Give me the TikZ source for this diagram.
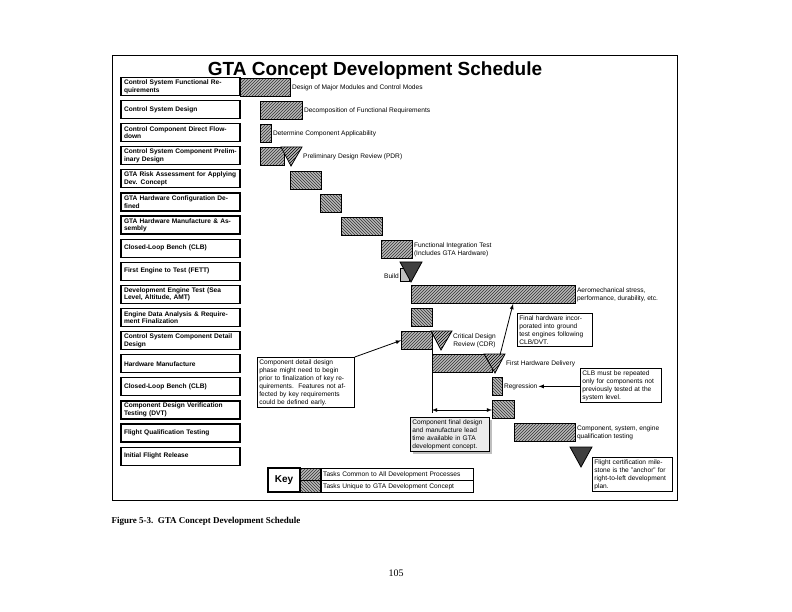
\documentclass[tikz,border=0pt]{standalone}
\usepackage{fontspec}
\setmainfont{Liberation Serif}
\setsansfont{Liberation Sans}
\usepackage{tikz}
\usetikzlibrary{patterns, arrows, shadows}
\tikzset{task/.style = {rectangle, draw=black, very thick, fill=white, minimum width=119pt, minimum height=18pt, text width=113pt, align=left, inner sep=2pt, font=\sffamily\bfseries\fontsize{6.6}{7.6}\selectfont},
common/.style = {rectangle, draw=black, thick, inner sep=0pt, minimum height=18pt, preaction={fill=gray!55}, pattern=north east lines, pattern color=black!80},
unique/.style = {common, pattern=north west lines},
lbl/.style = {font=\sffamily\fontsize{6.6}{7.8}\selectfont, align=left, inner sep=1pt},
note/.style = {rectangle, draw=black, thick, fill=white, align=left, inner sep=2pt, font=\sffamily\fontsize{6.6}{8}\selectfont},
arrow/.style = {thick,->,>=latex}}

\begin{document}
\begin{tikzpicture}[x=1pt, y=-1pt]
\useasboundingbox (0,0) rectangle (792,612);
\draw [thick] (112,55) rectangle (677,500);
\node (title) at (375,71) {\sffamily\bfseries\fontsize{19}{20}\selectfont GTA Concept Development Schedule};
% task column
\foreach \i/\t in {1/{Control System Functional Requirements}, 2/{Control System Design}, 3/{Control Component Direct Flowdown}, 4/{Control System Component Preliminary Design}, 5/{GTA Risk Assessment for Applying Dev. Concept}, 6/{GTA Hardware Configuration Defined}, 7/{GTA Hardware Manufacture \& Assembly}, 8/{Closed-Loop Bench (CLB)}, 9/{First Engine to Test (FETT)}, 10/{Development Engine Test (Sea Level, Altitude, AMT)}, 11/{Engine Data Analysis \& Requirement Finalization}, 12/{Control System Component Detail Design}, 13/{Hardware Manufacture}, 14/{Closed-Loop Bench (CLB)}, 15/{Component Design Verification Testing (DVT)}, 16/{Flight Qualification Testing}, 17/{Initial Flight Release}}
  \node (r\i) [task] at (180.5,{86.5+23.1*(\i-1)}) {\t};
% bars
\node (b1) [common, anchor=north west, minimum width=50] at (240,78) {};
\node (b2) [common, anchor=north west, minimum width=42] at (260,101) {};
\node (b3) [common, anchor=north west, minimum width=11] at (260,124) {};
\node (b4) [common, anchor=north west, minimum width=24] at (260,147) {};
\node (b5) [unique, anchor=north west, minimum width=31] at (290,171) {};
\node (b6) [unique, anchor=north west, minimum width=21] at (320,194) {};
\node (b7) [unique, anchor=north west, minimum width=41] at (341,217) {};
\node (b8) [common, anchor=north west, minimum width=31] at (381,240) {};
\node (b9) [rectangle, draw, thick, fill=gray!50, anchor=north west, minimum width=9, minimum height=13, inner sep=0pt] at (400,268) {};
\node (b10) [common, anchor=north west, minimum width=164] at (411,285) {};
\node (b11) [unique, anchor=north west, minimum width=21] at (411,308) {};
\node (b12) [common, anchor=north west, minimum width=31] at (401,331) {};
\node (b13) [common, anchor=north west, minimum width=60] at (432,354) {};
\node (b14) [unique, anchor=north west, minimum width=10] at (492,377) {};
\node (b15) [unique, anchor=north west, minimum width=22] at (492,400) {};
\node (b16) [common, anchor=north west, minimum width=61] at (514,423) {};
% milestones
\draw [thick, preaction={fill=gray!55}, pattern=north east lines] (281,147) -- (302,147) -- (291,166) -- cycle;
\draw [thick, fill=black!75] (400,262) -- (422,262) -- (411,282) -- cycle;
\draw [thick, preaction={fill=gray!55}, pattern=north east lines] (431,331) -- (452,331) -- (441,350) -- cycle;
\draw [thick, preaction={fill=gray!55}, pattern=north east lines] (484,354) -- (505,354) -- (495,373) -- cycle;
\draw [thick, fill=black!75] (570,447) -- (592,447) -- (581,467) -- cycle;
% bar labels
\node (l1) [lbl, anchor=west] at (b1.east) {Design of Major Modules and Control Modes};
\node (l2) [lbl, anchor=west] at (b2.east) {Decomposition of Functional Requirements};
\node (l3) [lbl, anchor=west] at (b3.east) {Determine Component Applicability};
\node (l4) [lbl, anchor=west] at (302,157) {Preliminary Design Review (PDR)};
\node (l8) [lbl, anchor=west] at (b8.east) {Functional Integration Test\\(Includes GTA Hardware)};
\node (l9) [lbl, anchor=east] at (400,276) {Build};
\node (l10) [lbl, anchor=west] at (b10.east) {Aeromechanical stress,\\performance, durability, etc.};
\node (l12) [lbl, anchor=west, align=center] at (452,341) {Critical Design\\Review (CDR)};
\node (l13) [lbl, anchor=west] at (505,364) {First Hardware Delivery};
\node (l14) [lbl, anchor=west] at (b14.east) {Regression};
\node (l16) [lbl, anchor=west] at (b16.east) {Component, system, engine\\qualification testing};
% notes
\node (n1) [note, anchor=north west, text width=93pt] at (257,357) {Component detail design phase might need to begin prior to finalization of key requirements.\ \ Features not affected by key requirements could be defined early.};
\node (n2) [note, anchor=north west, text width=71pt] at (517,313) {Final hardware incorporated into ground test engines following CLB/DVT.};
\node (n3) [note, anchor=north west, text width=77pt] at (580,368) {CLB must be repeated only for components not previously tested at the system level.};
\node (n4) [note, anchor=north west, text width=75pt, fill=gray!15, drop shadow] at (410,417) {Component final design and manufacture lead time available in GTA development concept.};
\node (n5) [note, anchor=north west, text width=76pt] at (592,457) {Flight certification milestone is the "anchor" for right-to-left development plan.};
\coordinate (cdr) at (432,345);
\coordinate (lead) at (432,413);
\draw [thick] (cdr) -- (lead);
\draw [thick, <->, >=latex] (432,410) -- (b15.west |- 0,410);
\draw [arrow] (n1.north east) -- (b12.west);
\draw [arrow] (500,355) -- (513,304);
\draw [arrow] (n3.west |- l14) -- (l14.east);
% key
\node (key) [rectangle, draw, very thick, minimum width=32, minimum height=24, font=\sffamily\bfseries\fontsize{10}{10}\selectfont] at (284,480) {Key};
\node (kc) [common, anchor=north west, minimum width=20, minimum height=12] at (300,468) {};
\node (ku) [unique, anchor=north west, minimum width=20, minimum height=12] at (300,480) {};
\node (kt1) [rectangle, draw, thick, anchor=west, minimum width=152, minimum height=12, inner sep=1pt, font=\sffamily\fontsize{6.6}{7}\selectfont, text width=148pt] at (kc.east) {Tasks Common to All Development Processes};
\node (kt2) [rectangle, draw, thick, anchor=west, minimum width=152, minimum height=12, inner sep=1pt, font=\sffamily\fontsize{6.6}{7}\selectfont, text width=148pt] at (ku.east) {Tasks Unique to GTA Development Concept};
% caption
\node (cap) [anchor=west, font=\bfseries\fontsize{9}{10}\selectfont] at (108,521) {Figure 5-3.\ \ GTA Concept Development Schedule};
\node (page) [font=\fontsize{10}{10}\selectfont] at (396,573) {105};
\end{tikzpicture}
\end{document}
